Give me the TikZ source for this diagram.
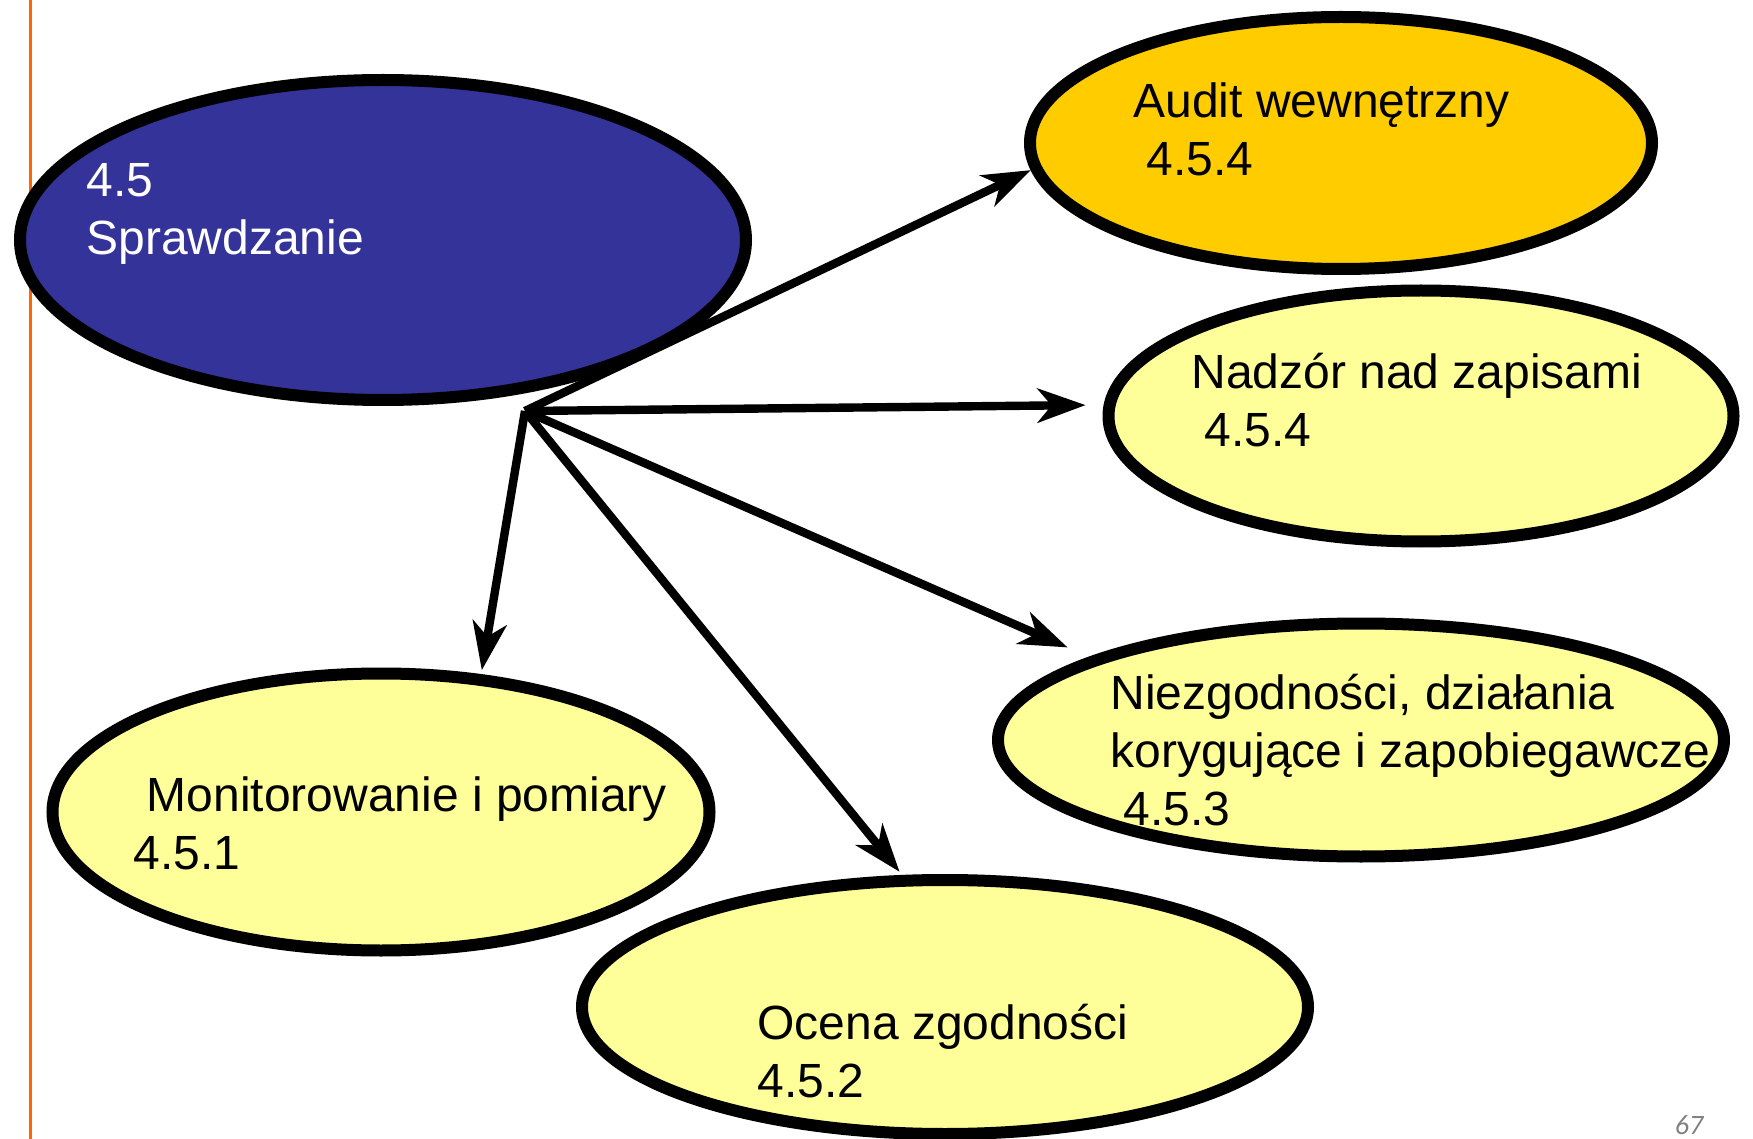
\documentclass[tikz,border=0pt]{standalone}
\usepackage{fontspec}
\setmainfont{Liberation Sans}
\newfontfamily\pagefont{Carlito}
\usetikzlibrary{shapes.geometric,arrows.meta}
\definecolor{checkblue}{HTML}{333399}
\definecolor{paleyellow}{HTML}{FFFF99}
\definecolor{auditgold}{HTML}{FFCC00}
\definecolor{marginrule}{HTML}{FF6600}
\begin{document}
\begin{tikzpicture}[x=0.5pt, y=-0.5pt,
  ell/.style={draw, ellipse, line width=6pt, inner sep=0pt, fill=paleyellow},
  lbl/.style={anchor=base west, align=left, inner sep=0pt, font=\fontsize{24}{29}\selectfont},
  arr/.style={-{Stealth[length=24pt, width=17pt, inset=7pt]}, line width=4.2pt}
]
\useasboundingbox (0,0) rectangle (1753,1139);
\draw[marginrule, line width=1.5pt] (30,0) -- (30,1139);

\node[ell, fill=checkblue, minimum width=363pt, minimum height=160pt] (check) at (383,240) {};
\node[ell, fill=auditgold, minimum width=311pt, minimum height=126pt] (audit) at (1341,143) {};
\node[ell, minimum width=312.5pt, minimum height=125.5pt] (records) at (1421,416) {};
\node[ell, minimum width=363pt, minimum height=116.5pt] (ncr) at (1361,740) {};
\node[ell, minimum width=328.5pt, minimum height=138.5pt] (monitor) at (381,812) {};
\node[ell, minimum width=363pt, minimum height=127pt] (eval) at (945,1007) {};

\node[lbl, text=white] (checktxt) at (86,255) {4.5\\Sprawdzanie};
\node[lbl] (audittxt) at (1133,176) {Audit wewnętrzny\\\hspace{0.28em}4.5.4};
\node[lbl] (recordstxt) at (1191,447) {Nadzór nad zapisami\\\hspace{0.28em}4.5.4};
\node[lbl] (ncrtxt) at (1110,825) {Niezgodności, działania\\korygujące i zapobiegawcze\\\hspace{0.28em}4.5.3};
\node[lbl] (monitortxt) at (133,869) {\hspace{0.28em}Monitorowanie i pomiary\\4.5.1};
\node[lbl] (evaltxt) at (757,1097) {Ocena zgodności\\4.5.2};

\node[text=gray, font=\pagefont\itshape\fontsize{14}{16}\selectfont] (page) at (1689,1125) {67};

\coordinate (hub) at (525,411);
\draw[arr] (hub) -- (audit.185);
\draw[arr, shorten >=9pt] (hub) -- (records.178);
\draw[arr, shorten >=12pt] (hub) -- (ncr.163);
\draw[arr, shorten >=2pt] (hub) -- (eval.108);
\draw[arr, shorten >=2pt] (hub) -- (monitor.54);
\end{tikzpicture}
\end{document}
